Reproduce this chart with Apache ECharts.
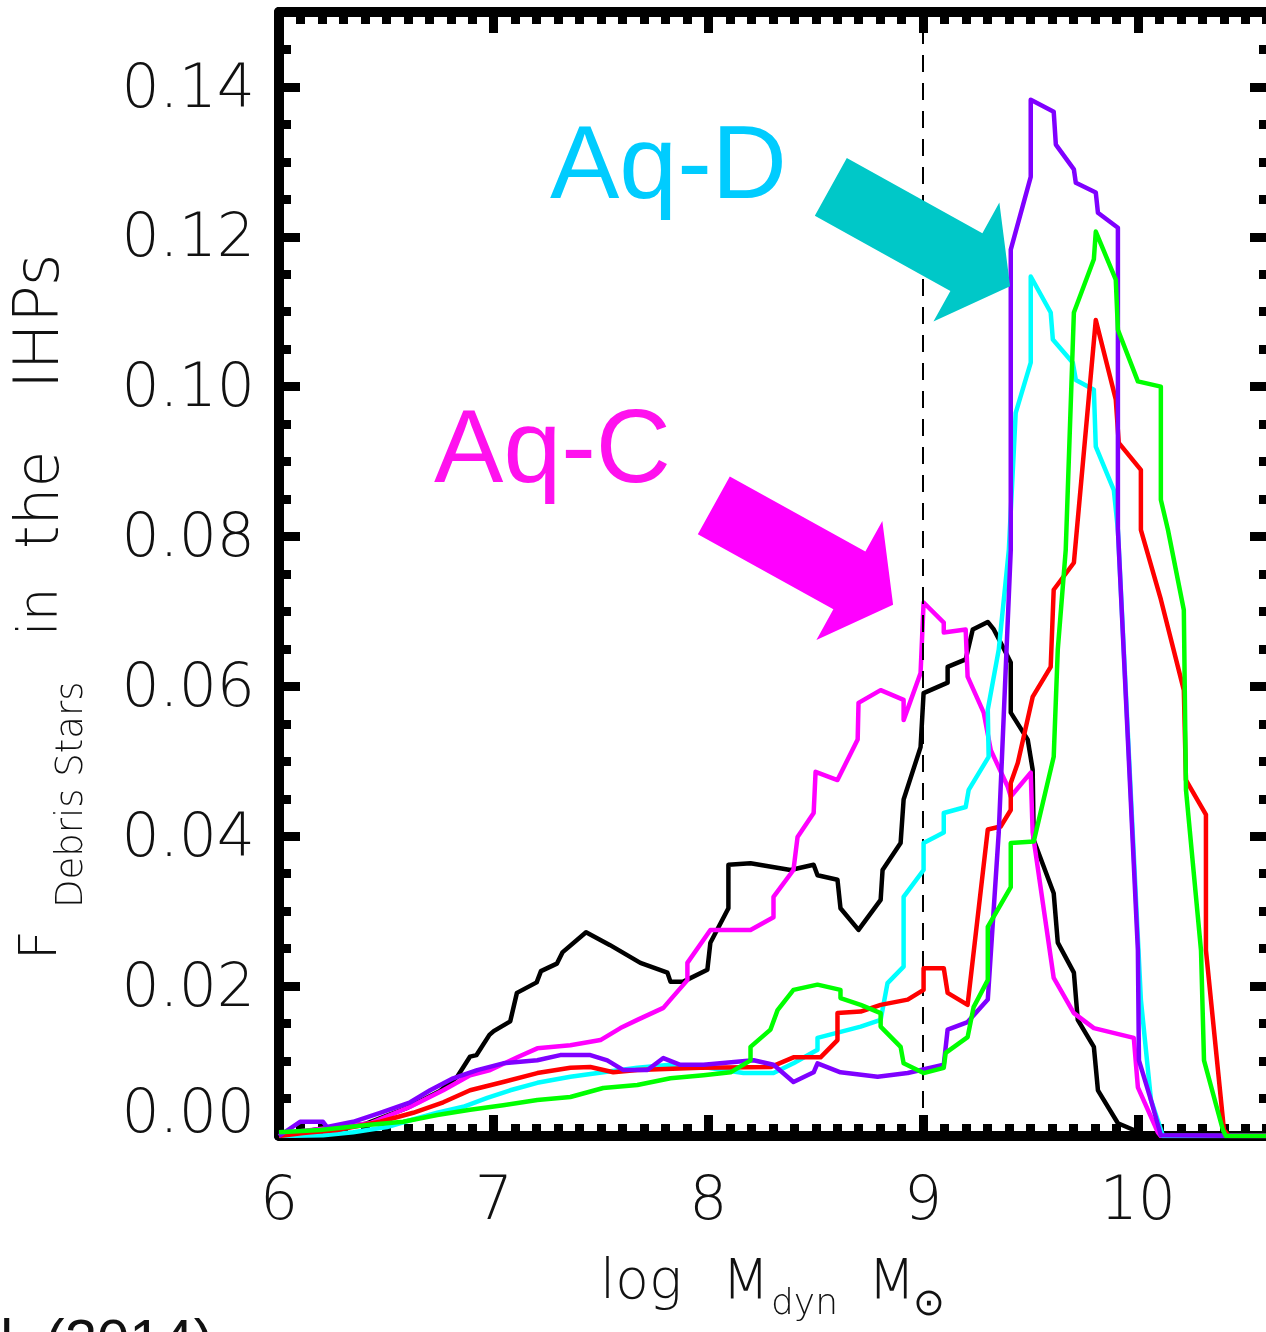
<!DOCTYPE html>
<html>
<head>
<meta charset="utf-8">
<script src="https://cdn.jsdelivr.net/npm/echarts@6/dist/echarts.min.js"></script>
<style>
  html, body { margin: 0; padding: 0; background: #ffffff; }
  #chart { width: 1266px; height: 1332px; }
</style>
</head>
<body>
<div id="chart"></div>
<script>
// Fraction of debris stars in the inner halo populations vs. log dynamical mass
// of their progenitors, one curve per halo (step-like histograms).

const xBlack = [6.00, 6.20, 6.40, 6.60, 6.75, 6.83, 6.89, 6.92, 6.98, 7.00, 7.077, 7.108, 7.20, 7.22, 7.294, 7.32, 7.43, 7.54, 7.683, 7.809, 7.823, 7.883, 7.995, 8.009, 8.093, 8.093, 8.196, 8.382, 8.490, 8.508, 8.601, 8.615, 8.699, 8.802, 8.811, 8.895, 8.909, 8.988, 9.002, 9.114, 9.114, 9.198, 9.231, 9.301, 9.329, 9.371, 9.408, 9.408, 9.487, 9.510, 9.515, 9.608, 9.627, 9.702, 9.720, 9.795, 9.814, 9.907, 9.981, 10.01, 10.62];
const fBlack = [0.0000, 0.0010, 0.0016, 0.0038, 0.0060, 0.0079, 0.0106, 0.0108, 0.0135, 0.0140, 0.0153, 0.0191, 0.0205, 0.0220, 0.0230, 0.0245, 0.0272, 0.0255, 0.0231, 0.0218, 0.0206, 0.0206, 0.0222, 0.0258, 0.0304, 0.0362, 0.0364, 0.0355, 0.0362, 0.0348, 0.0342, 0.0304, 0.0275, 0.0315, 0.0355, 0.0391, 0.0449, 0.0519, 0.0591, 0.0605, 0.0626, 0.0636, 0.0676, 0.0686, 0.0676, 0.0653, 0.0632, 0.0565, 0.0529, 0.0489, 0.0395, 0.0324, 0.0258, 0.0218, 0.0155, 0.0119, 0.0061, 0.0017, 0.0008, 0.0000, 0.0000];

const xMagenta = [6.00, 6.424, 6.611, 6.765, 6.890, 6.984, 7.110, 7.203, 7.357, 7.497, 7.590, 7.669, 7.790, 7.823, 7.902, 7.902, 8.009, 8.196, 8.303, 8.303, 8.396, 8.415, 8.490, 8.499, 8.601, 8.695, 8.699, 8.802, 8.909, 8.909, 8.988, 9.002, 9.096, 9.096, 9.198, 9.207, 9.282, 9.315, 9.394, 9.408, 9.501, 9.510, 9.608, 9.702, 9.795, 9.981, 10.00, 10.093, 10.107, 10.62];
const fMagenta = [0.0003, 0.0017, 0.0039, 0.0061, 0.0081, 0.0088, 0.0105, 0.0117, 0.0121, 0.0128, 0.0144, 0.0155, 0.0171, 0.0182, 0.0208, 0.0231, 0.0275, 0.0275, 0.0292, 0.0319, 0.0355, 0.0399, 0.0431, 0.0486, 0.0475, 0.0529, 0.0578, 0.0595, 0.0582, 0.0555, 0.0618, 0.0712, 0.0685, 0.0672, 0.0676, 0.0613, 0.0565, 0.0515, 0.0466, 0.0453, 0.0485, 0.0405, 0.0211, 0.0164, 0.0144, 0.0131, 0.0065, 0.0005, 0.0000, 0.0000];

const xCyan = [6.00, 6.205, 6.345, 6.503, 6.611, 6.737, 6.858, 6.970, 7.077, 7.203, 7.357, 7.510, 7.669, 7.823, 7.977, 8.163, 8.303, 8.396, 8.508, 8.508, 8.709, 8.802, 8.834, 8.909, 8.909, 9.002, 9.002, 9.096, 9.096, 9.198, 9.212, 9.305, 9.301, 9.352, 9.399, 9.431, 9.501, 9.501, 9.594, 9.604, 9.697, 9.711, 9.795, 9.804, 9.888, 9.907, 10.014, 10.061, 10.117, 10.62];
const fCyan = [0.0000, 0.0001, 0.0005, 0.0012, 0.0021, 0.0031, 0.0039, 0.0051, 0.0061, 0.0071, 0.0079, 0.0085, 0.0091, 0.0095, 0.0092, 0.0084, 0.0084, 0.0097, 0.0115, 0.0131, 0.0146, 0.0155, 0.0204, 0.0226, 0.0319, 0.0355, 0.0391, 0.0405, 0.0431, 0.0439, 0.0462, 0.0506, 0.0569, 0.0649, 0.0782, 0.0965, 0.1032, 0.1147, 0.1099, 0.1063, 0.1032, 0.1009, 0.0996, 0.0920, 0.0862, 0.0809, 0.0182, 0.0048, 0.0000, 0.0000];

const xRed = [6.00, 6.112, 6.270, 6.471, 6.625, 6.765, 6.890, 7.044, 7.203, 7.357, 7.450, 7.557, 7.669, 7.963, 8.289, 8.396, 8.522, 8.601, 8.601, 8.709, 8.802, 8.928, 9.002, 9.002, 9.096, 9.114, 9.207, 9.301, 9.361, 9.408, 9.408, 9.441, 9.510, 9.594, 9.608, 9.702, 9.804, 9.897, 9.911, 10.014, 10.014, 10.107, 10.214, 10.224, 10.317, 10.317, 10.401, 10.424, 10.62];
const fRed = [0.0000, 0.0004, 0.0008, 0.0019, 0.0031, 0.0045, 0.0061, 0.0072, 0.0084, 0.0091, 0.0092, 0.0085, 0.0088, 0.0091, 0.0092, 0.0105, 0.0105, 0.0128, 0.0164, 0.0166, 0.0175, 0.0182, 0.0195, 0.0224, 0.0224, 0.0191, 0.0175, 0.0409, 0.0413, 0.0435, 0.0471, 0.0498, 0.0586, 0.0626, 0.0729, 0.0765, 0.1089, 0.0983, 0.0925, 0.0889, 0.0809, 0.0716, 0.0595, 0.0475, 0.0429, 0.0248, 0.0008, 0.0000, 0.0000];

const xGreen = [6.00, 6.191, 6.424, 6.578, 6.737, 6.890, 7.044, 7.203, 7.357, 7.510, 7.669, 7.823, 7.977, 8.103, 8.196, 8.196, 8.289, 8.322, 8.396, 8.508, 8.615, 8.615, 8.709, 8.802, 8.802, 8.895, 8.909, 9.002, 9.096, 9.105, 9.207, 9.235, 9.301, 9.301, 9.408, 9.408, 9.515, 9.608, 9.627, 9.664, 9.702, 9.795, 9.804, 9.897, 9.907, 10.00, 10.107, 10.107, 10.140, 10.214, 10.224, 10.294, 10.308, 10.396, 10.41, 10.62];
const fGreen = [0.0005, 0.0008, 0.0015, 0.0019, 0.0028, 0.0035, 0.0041, 0.0048, 0.0052, 0.0064, 0.0068, 0.0077, 0.0081, 0.0085, 0.0101, 0.0119, 0.0142, 0.0168, 0.0195, 0.0202, 0.0195, 0.0184, 0.0175, 0.0164, 0.0146, 0.0119, 0.0097, 0.0084, 0.0091, 0.0111, 0.0132, 0.0172, 0.0208, 0.0279, 0.0332, 0.0391, 0.0393, 0.0506, 0.0649, 0.0782, 0.1099, 0.1170, 0.1207, 0.1143, 0.1076, 0.1007, 0.1000, 0.0849, 0.0809, 0.0702, 0.0462, 0.0248, 0.0101, 0.0008, 0.0000, 0.0000];

const xPurple = [6.00, 6.098, 6.205, 6.224, 6.345, 6.471, 6.611, 6.704, 6.811, 6.923, 7.044, 7.203, 7.310, 7.450, 7.529, 7.604, 7.716, 7.790, 7.869, 7.977, 8.210, 8.303, 8.396, 8.490, 8.508, 8.615, 8.788, 8.928, 9.096, 9.114, 9.207, 9.301, 9.352, 9.375, 9.408, 9.408, 9.501, 9.501, 9.608, 9.618, 9.702, 9.711, 9.804, 9.814, 9.907, 9.907, 10.00, 10.005, 10.061, 10.107, 10.62];
const fPurple = [0.0000, 0.0019, 0.0019, 0.0012, 0.0019, 0.0031, 0.0045, 0.0061, 0.0077, 0.0088, 0.0097, 0.0101, 0.0108, 0.0108, 0.0101, 0.0088, 0.0088, 0.0104, 0.0095, 0.0095, 0.0101, 0.0095, 0.0072, 0.0085, 0.0097, 0.0085, 0.0079, 0.0084, 0.0095, 0.0142, 0.0152, 0.0182, 0.0405, 0.0559, 0.0782, 0.1183, 0.1280, 0.1383, 0.1367, 0.1323, 0.1290, 0.1272, 0.1259, 0.1232, 0.1212, 0.0809, 0.0248, 0.0101, 0.0048, 0.0001, 0.0000];

// Axis ticks
const xMajorTicks = [6, 7, 8, 9, 10];
const yMajorTicks = [0.00, 0.02, 0.04, 0.06, 0.08, 0.10, 0.12, 0.14];

const X_MIN = 6, X_MAX = 10.62, Y_MIN = 0, Y_MAX = 0.15;
const TICK_FONT = 'DejaVu Sans';

const chart = echarts.init(document.getElementById('chart'), null, { renderer: 'canvas' });

function xAxisDef(position, interval, tickLen, withLine, withLabels) {
  return {
    type: 'value', position, min: X_MIN, max: X_MAX, interval,
    axisLine: { show: withLine, onZero: false, lineStyle: { color: '#000', width: 10 } },
    axisTick: { show: true, inside: true, length: tickLen, lineStyle: { color: '#000', width: 9 } },
    axisLabel: withLabels ? {
      show: true, margin: 37, fontFamily: TICK_FONT, fontSize: 60, fontWeight: 200, color: '#111',
      showMaxLabel: false,
      formatter: v => xMajorTicks.includes(v) ? String(v) : ''
    } : { show: false },
    splitLine: { show: false }, minorTick: { show: false }
  };
}

function yAxisDef(position, interval, tickLen, withLine, withLabels) {
  return {
    type: 'value', position, min: Y_MIN, max: Y_MAX, interval,
    axisLine: { show: withLine, onZero: false, lineStyle: { color: '#000', width: 10 } },
    axisTick: { show: true, inside: true, length: tickLen, lineStyle: { color: '#000', width: 9 } },
    axisLabel: withLabels ? {
      show: true, margin: 24, showMaxLabel: false,
      formatter: v => {
        const hit = yMajorTicks.find(t => Math.abs(t - v) < 1e-9);
        if (hit === undefined) return '';
        return hit === 0 ? '{z|' + hit.toFixed(2) + '}' : '{n|' + hit.toFixed(2) + '}';
      },
      rich: {
        n: { fontFamily: TICK_FONT, fontSize: 60, fontWeight: 200, color: '#111', padding: [8, 0, 0, 0] },
        z: { fontFamily: TICK_FONT, fontSize: 60, fontWeight: 200, color: '#111', padding: [0, 0, 40, 0] }
      }
    } : { show: false },
    splitLine: { show: false }, minorTick: { show: false }
  };
}

function curve(name, xs, ys, color, z, extra) {
  return Object.assign({
    type: 'line', name, xAxisIndex: 0, yAxisIndex: 0,
    data: xs.map((x, i) => [x, ys[i]]),
    showSymbol: false, symbol: 'none', smooth: false, clip: true, z,
    lineStyle: { color, width: 4.5, join: 'round' }, itemStyle: { color },
    emphasis: { disabled: true }, silent: true
  }, extra || {});
}

chart.setOption({
  animation: false,
  backgroundColor: '#ffffff',
  grid: { left: 279, top: 12, width: 992, height: 1124, containLabel: false, outerBoundsMode: 'none' },
  xAxis: [
    xAxisDef('bottom', 1, 21, true, true),
    xAxisDef('bottom', 0.1, 12, false, false),
    xAxisDef('top', 1, 21, true, false),
    xAxisDef('top', 0.1, 12, false, false)
  ],
  yAxis: [
    yAxisDef('left', 0.02, 21, true, true),
    yAxisDef('left', 0.005, 12, false, false),
    yAxisDef('right', 0.02, 21, true, false),
    yAxisDef('right', 0.005, 12, false, false)
  ],
  series: [
    curve('black', xBlack, fBlack, '#000000', 3, {
      markLine: {
        silent: true, symbol: ['none', 'none'], label: { show: false },
        lineStyle: { color: '#000', type: [17, 11], width: 2 },
        data: [{ xAxis: 9 }]
      }
    }),
    curve('Aq-C', xMagenta, fMagenta, '#ff00ff', 4),
    curve('Aq-D', xCyan, fCyan, '#00ffff', 5),
    curve('red', xRed, fRed, '#ff0000', 6),
    curve('purple', xPurple, fPurple, '#7f00ff', 7),
    curve('green', xGreen, fGreen, '#00ff00', 8)
  ]
});

// Annotation arrows: shaft + broad head, anchored at the tip in data units.
const annotations = [
  { label: 'Aq-D', tip: [9.405, 0.1134], text: [7.262, 0.1290], arrowColor: '#00c8c8', textColor: '#00ccff' },
  { label: 'Aq-C', tip: [8.860, 0.0709], text: [6.722, 0.0911], arrowColor: '#ff00ff', textColor: '#ff11ee' }
];

function arrowPolygon(tip, angleDeg) {
  const a = angleDeg * Math.PI / 180;
  const ux = Math.cos(a), uy = Math.sin(a), vx = -uy, vy = ux;
  const shape = [[0, 0], [-50, -68], [-50, -33], [-205, -33], [-205, 33], [-50, 33], [-50, 68]];
  return shape.map(([s, t]) => [tip[0] + s * ux + t * vx, tip[1] + s * uy + t * vy]);
}

const graphics = [];
annotations.forEach(an => {
  const tipPx = chart.convertToPixel({ xAxisIndex: 0, yAxisIndex: 0 }, an.tip);
  const txtPx = chart.convertToPixel({ xAxisIndex: 0, yAxisIndex: 0 }, an.text);
  graphics.push({
    type: 'polygon', z: 20, silent: true,
    shape: { points: arrowPolygon(tipPx, 29) },
    style: { fill: an.arrowColor, stroke: null }
  });
  graphics.push({
    type: 'text', z: 20, silent: true, x: txtPx[0], y: txtPx[1],
    style: { text: an.label, fontFamily: 'Liberation Sans', fontSize: 104, fill: an.textColor, align: 'left', verticalAlign: 'middle' }
  });
});

// Axis titles, set word by word (subscripts in a smaller size)
const TITLE_FONT = 'DejaVu Sans';
function word(text, x, y, size, rotated) {
  return {
    type: 'text', silent: true, x, y, rotation: rotated ? Math.PI / 2 : 0,
    style: { text, fontFamily: TITLE_FONT, fontSize: size, fontWeight: 200, fill: '#111', align: 'left', verticalAlign: 'middle' }
  };
}
graphics.push(
  word('log', 600, 1284, 55, false),
  word('M', 722, 1284, 55, false),
  word('dyn', 771, 1305, 36, false),
  word('M', 868, 1284, 55, false),
  word('\u2299', 913, 1305, 38, false),
  word('F', 42, 960, 52, true),
  word('Debris Stars', 72, 908, 37, true),
  word('in', 42, 636, 53, true),
  word('the', 42, 549, 60, true),
  word('IHPs', 42, 389, 63, true)
);

// Caption fragment along the lower edge
graphics.push({
  type: 'text', silent: true, x: -32, y: 1315,
  style: { text: 'al. (2014)', fontFamily: 'Liberation Sans', fontSize: 58, fill: '#111', align: 'left', verticalAlign: 'top' }
});

chart.setOption({ graphic: graphics });
</script>
</body>
</html>
